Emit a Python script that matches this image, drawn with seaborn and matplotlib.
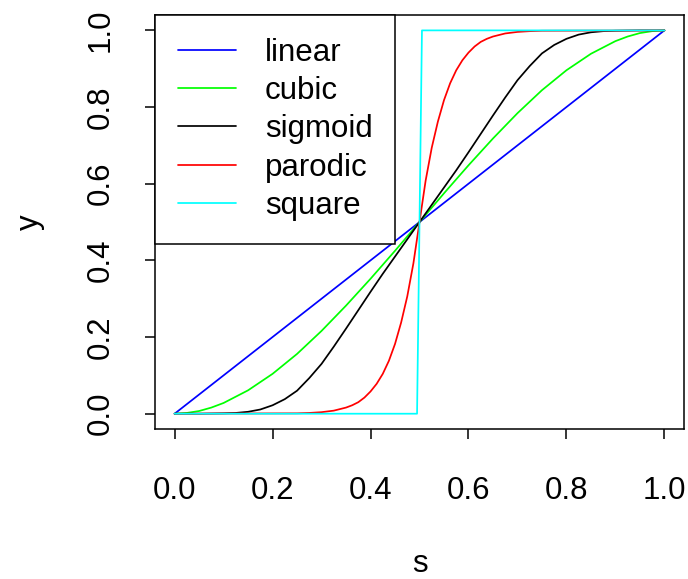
import pandas as pd
import seaborn as sns
import matplotlib.pyplot as plt

# ---------------- data ----------------
sLinear = [0.0, 0.05, 0.1, 0.15, 0.2, 0.25, 0.3, 0.35, 0.4, 0.45, 0.5,
           0.55, 0.6, 0.65, 0.7, 0.75, 0.8, 0.85, 0.9, 0.95, 1.0]
yLinear = [0.0, 0.05, 0.1, 0.15, 0.2, 0.25, 0.3, 0.35, 0.4, 0.45, 0.5,
           0.55, 0.6, 0.65, 0.7, 0.75, 0.8, 0.85, 0.9, 0.95, 1.0]

sCubic = [0.0, 0.025, 0.05, 0.075, 0.1, 0.15, 0.2, 0.25, 0.3, 0.35, 0.4, 0.45, 0.5,
          0.55, 0.6, 0.65, 0.7, 0.75, 0.8, 0.85, 0.9, 0.925, 0.95, 0.975, 1.0]
yCubic = [0.0, 0.002, 0.007, 0.016, 0.028, 0.061, 0.104, 0.156, 0.216, 0.282, 0.352, 0.425, 0.5,
          0.575, 0.648, 0.718, 0.784, 0.844, 0.896, 0.939, 0.972, 0.984, 0.993, 0.998, 1.0]

sSigmoid = [0.0, 0.05, 0.1, 0.125, 0.15, 0.175, 0.2, 0.225, 0.25, 0.275, 0.3, 0.325,
            0.35, 0.375, 0.4, 0.425, 0.45, 0.475, 0.5, 0.525, 0.55, 0.575, 0.6,
            0.625, 0.65, 0.675, 0.7, 0.725, 0.75, 0.775, 0.8, 0.825, 0.85, 0.875,
            0.9, 0.95, 1.0]
ySigmoid = [0.0, 0.0, 0.001, 0.002, 0.005, 0.011, 0.022, 0.038, 0.06, 0.093, 0.13, 0.175,
            0.222, 0.27, 0.318, 0.365, 0.41, 0.455, 0.5, 0.545, 0.59, 0.635, 0.682,
            0.73, 0.778, 0.825, 0.87, 0.907, 0.94, 0.962, 0.978, 0.989, 0.995, 0.998,
            0.999, 1.0, 1.0]

sParodic = [0.0, 0.25, 0.275, 0.3, 0.325, 0.35, 0.3625, 0.375, 0.3875, 0.4, 0.4125,
            0.425, 0.4375, 0.45, 0.4625, 0.475, 0.4875, 0.5,
            0.5125, 0.525, 0.5375, 0.55, 0.5625, 0.575, 0.5875, 0.6, 0.6125,
            0.625, 0.6375, 0.65, 0.675, 0.7, 0.725, 0.75, 1.0]
yParodic = [0.0, 0.001, 0.002, 0.004, 0.008, 0.016, 0.022, 0.03, 0.042, 0.058, 0.078,
            0.104, 0.138, 0.182, 0.238, 0.306, 0.392, 0.5,
            0.608, 0.694, 0.762, 0.818, 0.862, 0.896, 0.922, 0.942, 0.958,
            0.97, 0.978, 0.984, 0.992, 0.996, 0.998, 0.999, 1.0]

sSquare = [0.0, 0.495, 0.5, 0.505, 1.0]
ySquare = [0.0, 0.0, 0.5, 1.0, 1.0]

curveNames = ['linear', 'cubic', 'sigmoid', 'parodic', 'square']
curveColors = ['#0000FF', '#00FF00', '#000000', '#FF0000', '#00FFFF']

frames = []
for name, sv, yv in zip(curveNames,
                        [sLinear, sCubic, sSigmoid, sParodic, sSquare],
                        [yLinear, yCubic, ySigmoid, yParodic, ySquare]):
    frames.append(pd.DataFrame({'s': sv, 'y': yv, 'curve': name}))
df = pd.concat(frames, ignore_index=True)

# ---------------- plot ----------------
sns.set_style('white')
plt.rcParams['font.family'] = ['Liberation Sans', 'DejaVu Sans']
plt.rcParams['text.color'] = 'black'
plt.rcParams['axes.labelcolor'] = 'black'
plt.rcParams['xtick.color'] = 'black'
plt.rcParams['ytick.color'] = 'black'
fs = 22.5

fig = plt.figure(figsize=(6.88, 5.79), dpi=100)
ax = fig.add_axes([0.2253, 0.259, 0.7689, 0.715])

sns.lineplot(data=df, x='s', y='y', hue='curve', hue_order=curveNames,
             palette=dict(zip(curveNames, curveColors)), sort=False,
             estimator=None, linewidth=1.25, ax=ax)

ax.set_xlim(-0.04, 1.04)
ax.set_ylim(-0.04, 1.04)
ax.set_xticks([0.0, 0.2, 0.4, 0.6, 0.8, 1.0])
ax.set_yticks([0.0, 0.2, 0.4, 0.6, 0.8, 1.0])
ax.set_xticklabels(['0.0', '0.2', '0.4', '0.6', '0.8', '1.0'])
ax.set_yticklabels(['0.0', '0.2', '0.4', '0.6', '0.8', '1.0'])
ax.tick_params(axis='both', direction='out', length=7, width=1.1,
               color='black', labelcolor='black', labelsize=fs,
               left=True, bottom=True)
ax.tick_params(axis='x', pad=27)
ax.tick_params(axis='y', pad=21, labelrotation=90)
for lab in ax.get_yticklabels():
    lab.set_va('center')

for sp in ax.spines.values():
    sp.set_color('black')
    sp.set_linewidth(1.1)

ax.set_xlabel('s', fontsize=fs, labelpad=31, color='black')
ax.set_ylabel('y', fontsize=fs, labelpad=29.5, color='black')

leg = ax.legend(loc='upper left', bbox_to_anchor=(0, 1), borderaxespad=0,
                fontsize=fs, frameon=True, fancybox=False, framealpha=1,
                edgecolor='black', handlelength=1.87, handletextpad=0.92,
                borderpad=0.72, labelspacing=0.27)
leg.get_frame().set_linewidth(1.1)
for ln in leg.get_lines():
    ln.set_linewidth(1.25)
for t in leg.get_texts():
    t.set_color('black')

plt.savefig('out.png', dpi=100)
